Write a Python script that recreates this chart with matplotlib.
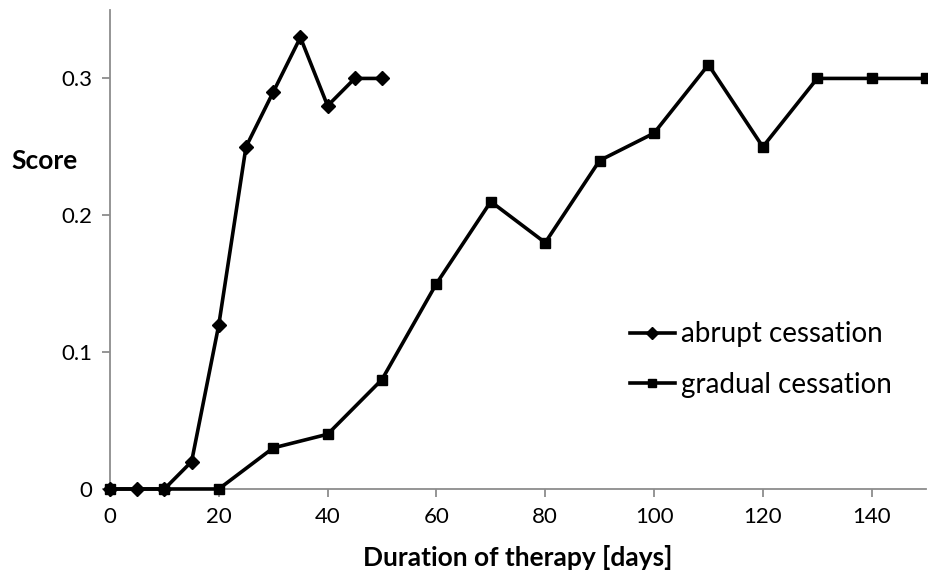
import numpy as np
import matplotlib.pyplot as plt

plt.rcParams['font.family'] = ['Lato', 'DejaVu Sans']

days_abrupt = [0, 5, 10, 15, 20, 25, 30, 35, 40, 45, 50]
score_abrupt = [0, 0, 0, 0.02, 0.12, 0.25, 0.29, 0.33, 0.28, 0.30, 0.30]
days_gradual = [0, 10, 20, 30, 40, 50, 60, 70, 80, 90, 100, 110, 120, 130, 140, 150]
score_gradual = [0, 0, 0, 0.03, 0.04, 0.08, 0.15, 0.21, 0.18, 0.24, 0.26, 0.31, 0.25, 0.30, 0.30, 0.30]

fig = plt.figure(figsize=(9.29, 5.75), dpi=100)
ax = fig.add_axes([0.1184, 0.1496, 0.8784, 0.833])

ax.plot(days_abrupt, score_abrupt, color='black', lw=2.6, marker='D', ms=7.5,
        label='abrupt cessation', clip_on=False, zorder=3)
ax.plot(days_gradual, score_gradual, color='black', lw=2.6, marker='s', ms=7.5,
        label='gradual cessation', clip_on=False, zorder=3)

ax.set_xlim(0, 150)
ax.set_ylim(0, 0.35)
ax.set_xticks(np.arange(0, 141, 20))
ax.set_yticks([0, 0.1, 0.2, 0.3])
ax.set_yticklabels(['0', '0.1', '0.2', '0.3'])

for s in ['top', 'right']:
    ax.spines[s].set_visible(False)
for s in ['left', 'bottom']:
    ax.spines[s].set_color('#8c8c8c')
    ax.spines[s].set_linewidth(1.3)
ax.tick_params(colors='#8c8c8c', labelcolor='black', labelsize=16, length=6, width=1.3, pad=7)

ax.set_xlabel('Duration of therapy [days]', fontsize=19, fontweight='bold', labelpad=13)
fig.text(0.012, 0.72, 'Score', fontsize=19, fontweight='bold', va='center', ha='left')

leg = ax.legend(loc='center left', bbox_to_anchor=(0.606, 0.27), frameon=False,
                fontsize=20, handlelength=1.65, handletextpad=0.2, labelspacing=0.89,
                markerscale=0.85)

fig.savefig('out.png', dpi=100)
